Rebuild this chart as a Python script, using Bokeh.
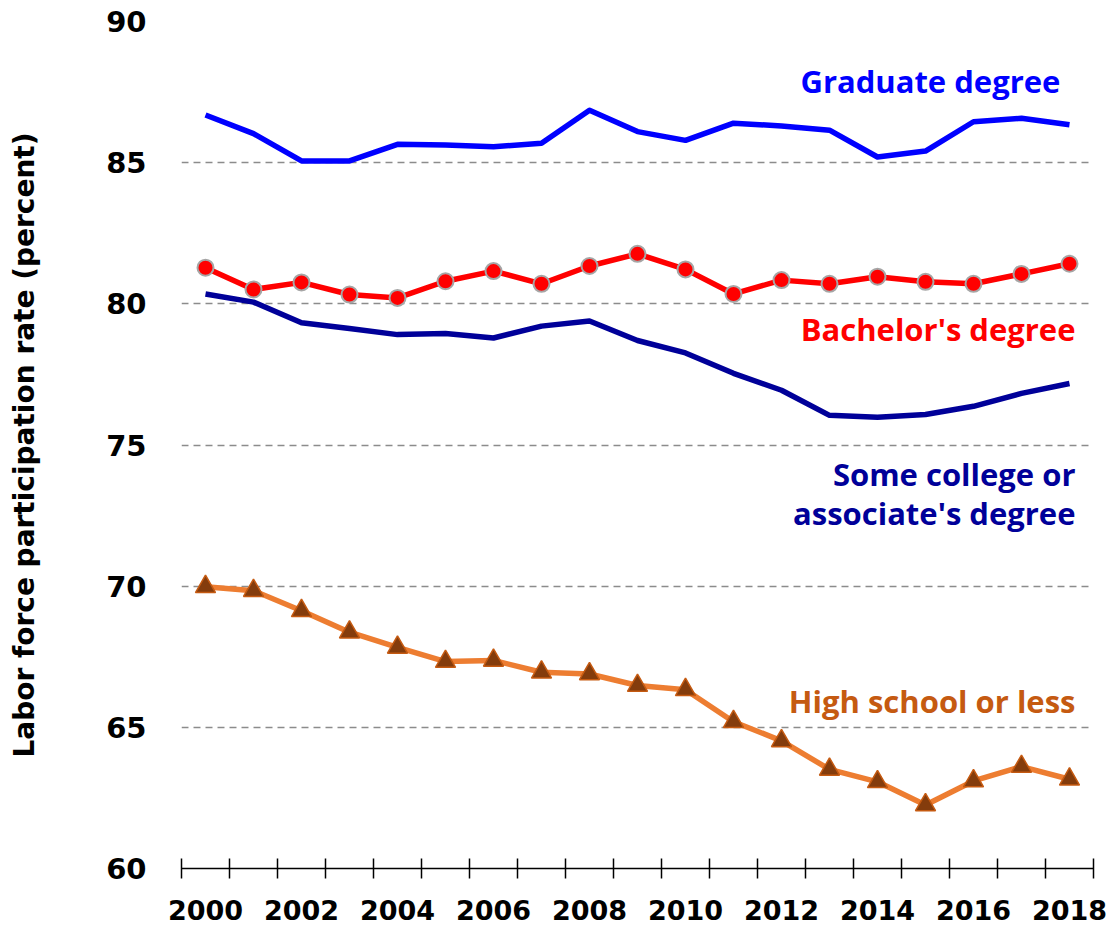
from bokeh.plotting import figure
from bokeh.models import FixedTicker, Label, Range1d
from bokeh.embed import file_html
from bokeh.resources import INLINE

years = list(range(2000, 2019))
graduate = [86.69, 86.03, 85.06, 85.06, 85.65, 85.63, 85.56, 85.69, 86.86, 86.10,
            85.79, 86.40, 86.30, 86.15, 85.20, 85.41, 86.45, 86.57, 86.34]
bachelor = [81.28, 80.51, 80.76, 80.33, 80.21, 80.80, 81.16, 80.71, 81.34, 81.77,
            81.22, 80.35, 80.84, 80.71, 80.96, 80.78, 80.71, 81.06, 81.42]
some_college = [80.35, 80.06, 79.33, 79.13, 78.91, 78.95, 78.79, 79.21, 79.39, 78.70,
                78.26, 77.54, 76.94, 76.05, 75.98, 76.08, 76.37, 76.83, 77.18]
high_school = [69.98, 69.84, 69.13, 68.37, 67.83, 67.33, 67.37, 66.95, 66.89, 66.48,
               66.33, 65.20, 64.52, 63.51, 63.07, 62.25, 63.10, 63.61, 63.16]
x_tick_labels = [str(y) for y in years[::2]]
y_ticks = [60, 65, 70, 75, 80, 85, 90]

p = figure(frame_width=912, frame_height=847,
           x_range=Range1d(years[0] - 0.5, years[-1] + 0.5),
           y_range=Range1d(60, 90),
           output_backend="svg", toolbar_location=None,
           min_border_left=181, min_border_right=16,
           min_border_top=21, min_border_bottom=58)
p.outline_line_color = None
p.background_fill_color = "white"
p.border_fill_color = "white"

# x axis: boundary ticks as minor ticks, labels every two years
p.xaxis.ticker = FixedTicker(ticks=years[::2],
                             minor_ticks=[y - 0.5 for y in years] + [years[-1] + 0.5])
p.xaxis.major_label_overrides = {y: s for y, s in zip(years[::2], x_tick_labels)}
p.xaxis.major_tick_in = 0
p.xaxis.major_tick_out = 0
p.xaxis.minor_tick_in = 10
p.xaxis.minor_tick_out = 10
p.xaxis.minor_tick_line_color = "black"
p.xaxis.minor_tick_line_width = 1.5
p.xaxis.axis_line_color = "black"
p.xaxis.axis_line_width = 1.5
p.xaxis.major_label_standoff = 21
p.xaxis.major_label_text_font = "DejaVu Sans"
p.xaxis.major_label_text_font_style = "bold"
p.xaxis.major_label_text_font_size = "27px"
p.xaxis.major_label_text_color = "black"

# y axis
p.yaxis.ticker = FixedTicker(ticks=y_ticks)
p.yaxis.axis_line_color = None
p.yaxis.major_tick_line_color = None
p.yaxis.minor_tick_line_color = None
p.yaxis.major_tick_out = 0
p.yaxis.major_tick_in = 0
p.yaxis.major_label_standoff = 35
p.yaxis.major_label_text_font = "DejaVu Sans"
p.yaxis.major_label_text_font_style = "bold"
p.yaxis.major_label_text_font_size = "29px"
p.yaxis.major_label_text_color = "black"
p.yaxis.axis_label = "Labor force participation rate (percent)"
p.yaxis.axis_label_text_font = "DejaVu Sans"
p.yaxis.axis_label_text_font_style = "bold"
p.yaxis.axis_label_text_font_size = "28px"
p.yaxis.axis_label_text_color = "black"
p.yaxis.axis_label_standoff = 62

p.xgrid.grid_line_color = None
p.ygrid.ticker = FixedTicker(ticks=y_ticks[1:])
p.ygrid.grid_line_color = "#8c8c8c"
p.ygrid.grid_line_dash = "7 5"
p.ygrid.grid_line_width = 1.5

# series
p.line(years, graduate, line_color="#0000FF", line_width=5.5, line_join="round")
p.line(years, some_college, line_color="#000099", line_width=5.5, line_join="round")
p.line(years, bachelor, line_color="#FF0000", line_width=5.5, line_join="round")
p.scatter(years, bachelor, marker="circle", size=16, fill_color="#FF0000",
          line_color="#A6A6A6", line_width=2)
p.line(years, high_school, line_color="#ED7D31", line_width=5.5, line_join="round")
p.scatter(years, high_school, marker="triangle", size=20, fill_color="#843C0C",
          line_color="#C55A11", line_width=1.5)

def lab(x, y, text, color):
    p.add_layout(Label(x=x, y=y, text=text, text_color=color,
                       text_font="Open Sans", text_font_style="bold",
                       text_font_size="31px", text_align="right",
                       text_baseline="alphabetic"))

lab(2017.81, 87.89, "Graduate degree", "#0000FF")
lab(2018.125, 79.12, "Bachelor's degree", "#FF0000")
lab(2018.125, 73.96, "Some college or", "#000099")
lab(2018.125, 72.60, "associate's degree", "#000099")
lab(2018.125, 65.95, "High school or less", "#C55A11")

open("out.html", "w").write(file_html(p, INLINE))
